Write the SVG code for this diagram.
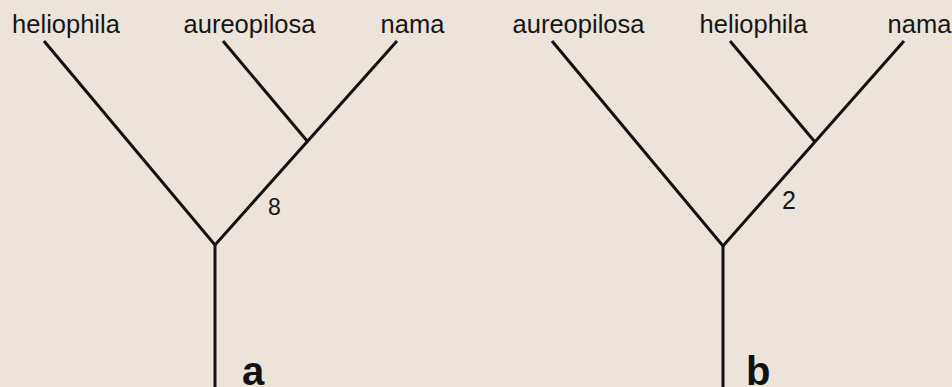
<svg xmlns="http://www.w3.org/2000/svg" width="952" height="387" viewBox="0 0 952 387">
<style>
.bg{fill:#ece3da}
.br{stroke:#111;stroke-width:3;fill:none;stroke-linecap:butt;stroke-linejoin:miter}
.sp{font-family:"Liberation Sans",Arial,sans-serif;font-size:25.5px;fill:#161616;text-anchor:middle}
.num{font-family:"Liberation Sans",Arial,sans-serif;fill:#161616}
.pl{font-family:"Liberation Sans",Arial,sans-serif;font-size:40px;font-weight:bold;fill:#111}
</style>
<rect class="bg" x="0" y="0" width="952" height="387"/>
<g id="connectors">
<polyline class="br" points="44,41 215,245 397,41"/>
<line class="br" x1="215" y1="245" x2="215" y2="387"/>
<line class="br" x1="223" y1="41" x2="308" y2="142"/>
<polyline class="br" points="552,41 723,246 904,41"/>
<line class="br" x1="723" y1="246" x2="723" y2="387"/>
<line class="br" x1="730" y1="41" x2="815" y2="142"/>
</g>
<g id="tree-a">
<text id="a-heliophila" class="sp" x="66" y="33">heliophila</text>
<text id="a-aureopilosa" class="sp" x="249.5" y="33">aureopilosa</text>
<text id="a-nama" class="sp" x="412.5" y="33">nama</text>
<text id="a-8" class="num" x="268" y="215" font-size="23">8</text>
<text id="a-label" class="pl" x="242" y="385">a</text>
</g>
<g id="tree-b">
<text id="b-aureopilosa" class="sp" x="578.5" y="33">aureopilosa</text>
<text id="b-heliophila" class="sp" x="753.5" y="33">heliophila</text>
<text id="b-nama" class="sp" x="919.5" y="33">nama</text>
<text id="b-2" class="num" x="782" y="209" font-size="25">2</text>
<text id="b-label" class="pl" x="746" y="385">b</text>
</g>
</svg>
